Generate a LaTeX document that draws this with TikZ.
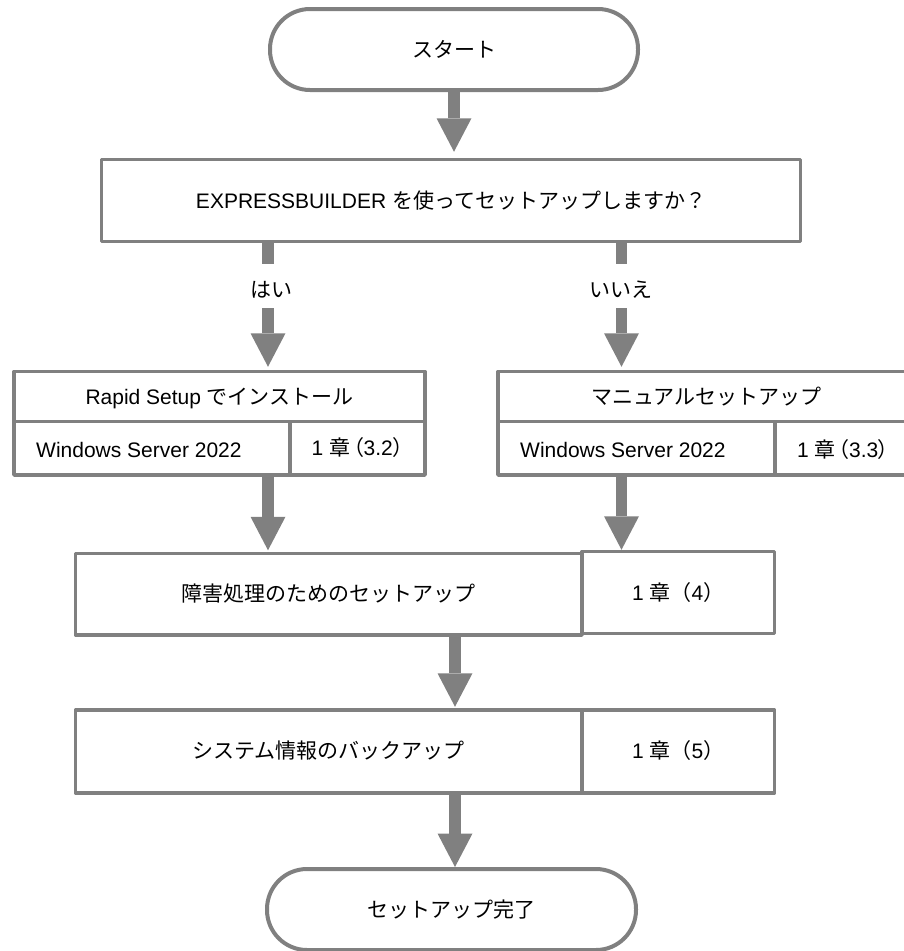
\documentclass[tikz,border=0pt]{standalone}
\usepackage{fontspec}
\setmainfont{Liberation Sans}
\newfontfamily\jp{Noto Sans CJK JP}
\newfontfamily\jpp[RawFeature=+palt]{Noto Sans CJK JP}
\usetikzlibrary{arrows.meta}
\definecolor{ln}{HTML}{808080}
\begin{document}
\begin{tikzpicture}[x=1pt,y=-1pt,
  font=\fontsize{21pt}{25pt}\selectfont,
  every node/.style={text height=15.5pt, text depth=0.5pt, inner sep=0pt},
  box/.style={draw=ln, line width=3.5pt, fill=white, rectangle, line join=round},
  term/.style={draw=ln, line width=4pt, fill=white, rectangle, rounded corners=40pt},
  flow/.style={draw=ln, line width=11.5pt,
    -{Triangle[length=33.5pt, width=35pt, line width=0pt]}},
  shaft/.style={draw=ln, line width=11.5pt}]
\useasboundingbox (0,0) rectangle (903,951);

% terminals
\node[term, minimum width=368pt, minimum height=81pt] (start) at (454,49.5) {\jp スタート};
\node[term, minimum width=369pt, minimum height=81pt] (end) at (451.5,909.5) {\jp セットアップ完了};

% question
\node[box, minimum width=699pt, minimum height=82pt] (q) at (451,200.5)
  {EXPRESSBUILDER {\jp を使ってセットアップしますか？}};

% Rapid setup block
\node[box, minimum width=411pt, minimum height=50pt] (rT) at (219.5,396.5)
  {Rapid Setup {\jp でインストール}};
\node[box, minimum width=276pt, minimum height=53.5pt] (rW) at (152,448.25) {};
\node[box, minimum width=135pt, minimum height=53.5pt] (rC) at (357.5,448.25)
  {1 {\jp 章}\kern3pt{\jpp （}3.2{\jpp ）}};
\node[anchor=west] (rWt) at (36,449.5) {Windows Server 2022};

% Manual setup block
\node[box, minimum width=417pt, minimum height=50pt] (mT) at (706.5,396.5)
  {\jp マニュアルセットアップ};
\node[box, minimum width=277pt, minimum height=53.5pt] (mW) at (636.5,448.25) {};
\node[box, minimum width=140pt, minimum height=53.5pt] (mC) at (845,448.25) {};
\node (mCt) at (843,449.5) {1 {\jp 章}\kern3pt{\jpp （}3.3{\jpp ）}};
\node[anchor=west] (mWt) at (520,449.5) {Windows Server 2022};

% failure setup
\node[box, minimum width=506.5pt, minimum height=81.5pt] (fail) at (328.75,594.25)
  {\jp 障害処理のためのセットアップ};
\node[box, minimum width=192.5pt, minimum height=82pt] (f4) at (678.25,592.5)
  {1 {\jp 章（}4{\jp ）}};

% system info backup
\node[box, minimum width=506.5pt, minimum height=83pt] (sys) at (328.75,751.3)
  {\jp システム情報のバックアップ};
\node[box, minimum width=192.5pt, minimum height=83pt] (s5) at (678.25,751.3)
  {1 {\jp 章（}5{\jp ）}};

% branch labels and break points
\coordinate (ya) at (268,264.3);
\coordinate (yb) at (268,308.3);
\coordinate (na) at (621.5,264.3);
\coordinate (nb) at (621.5,308.3);
\node (yes) at (271,290) {\jp はい};
\node (no) at (620.5,290) {\jp いいえ};
\coordinate (mid) at (455,700);

% connectors
\draw[flow, shorten >=6pt] (start.south) -- (start.south |- q.north);
\draw[shaft] (q.south -| ya) -- (ya);
\draw[shaft] (q.south -| na) -- (na);
\draw[flow, shorten >=3pt] (yb) -- (yb |- rT.north);
\draw[flow, shorten >=3pt] (nb) -- (nb |- mT.north);
\draw[flow, shorten >=1.5pt] (rW.south -| ya) -- (ya |- fail.north);
\draw[flow] (mW.south -| na) -- (na |- f4.north);
\draw[flow, shorten >=1.3pt] (fail.south -| mid) -- (mid |- sys.north);
\draw[flow] (sys.south -| mid) -- (mid |- end.north);
\end{tikzpicture}
\end{document}
